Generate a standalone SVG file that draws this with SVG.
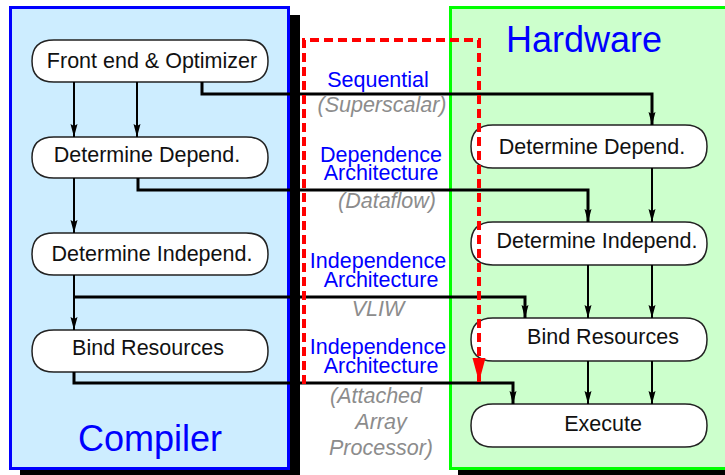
<svg xmlns="http://www.w3.org/2000/svg" width="725" height="475" viewBox="0 0 725 475">
<style>
.node{fill:#ffffff;stroke:#222;stroke-width:1.5}
.nt{font-family:"Liberation Sans",Arial,sans-serif;font-size:21.5px;fill:#111;text-anchor:middle}
.blue{font-family:"Liberation Sans",Arial,sans-serif;font-size:21.5px;fill:#0000ff;text-anchor:middle}
.gray{font-family:"Liberation Sans",Arial,sans-serif;font-size:21.5px;font-style:italic;fill:#8c8c8c;text-anchor:middle}
.big{font-family:"Liberation Sans",Arial,sans-serif;font-size:36px;fill:#0000ff;text-anchor:middle}
.arr{fill:none;stroke:#000;stroke-width:2;marker-end:url(#ah)}
.link{fill:none;stroke:#000;stroke-width:3;stroke-linejoin:miter;marker-end:url(#ah)}
.line{fill:none;stroke:#000;stroke-width:3}
</style>
<defs>
<marker id="ah" markerUnits="userSpaceOnUse" markerWidth="14" markerHeight="10" refX="13" refY="4" orient="auto">
<path d="M0,0.5 L13,4 L0,7.5 L2,4 Z" fill="#000"/>
</marker>
<marker id="rh" markerUnits="userSpaceOnUse" markerWidth="26" markerHeight="14" refX="24" refY="7" orient="auto">
<path d="M0,0.5 L24,7 L0,13.5 Z" fill="#ff0000"/>
</marker>
</defs>

<g id="compiler-box">
<rect x="20" y="15" width="280" height="460" fill="#000"/>
<rect x="10.5" y="7.5" width="278" height="461" fill="#cdedff" stroke="#0000ff" stroke-width="3"/>
<text class="big" x="150" y="451">Compiler</text>
</g>
<g id="hardware-box">
<rect x="458" y="15" width="300" height="460" fill="#000"/>
<rect x="450.5" y="7.5" width="300" height="461" fill="#ccffcc" stroke="#00ff00" stroke-width="3"/>
<text class="big" x="584" y="52">Hardware</text>
</g>

<g id="labels">
<text class="blue" x="378" y="87">Sequential</text>
<text class="gray" x="382" y="112">(Superscalar)</text>
<text class="blue" x="381" y="162">Dependence</text>
<text class="blue" x="381" y="180">Architecture</text>
<text class="gray" x="387" y="208">(Dataflow)</text>
<text class="blue" x="378" y="268">Independence</text>
<text class="blue" x="381" y="287">Architecture</text>
<text class="gray" x="378" y="316">VLIW</text>
<text class="blue" x="378" y="354">Independence</text>
<text class="blue" x="381" y="373">Architecture</text>
<text class="gray" x="376" y="403">(Attached</text>
<text class="gray" x="381" y="429">Array</text>
<text class="gray" x="381" y="455">Processor)</text>
</g>

<g id="c-front">
<path class="node" d="M54,40 H246 Q268,40 268,61 Q268,82 246,82 H54 Q32,82 32,61 Q32,40 54,40 Z"/>
<text class="nt" x="152" y="68">Front end &amp; Optimizer</text>
</g>
<g id="c-dep">
<path class="node" d="M54,137 H246 Q268,137 268,157.5 Q268,178 246,178 H54 Q32,178 32,157.5 Q32,137 54,137 Z"/>
<text class="nt" x="147" y="162">Determine Depend.</text>
</g>
<g id="c-indep">
<path class="node" d="M54,233 H246 Q268,233 268,254 Q268,275 246,275 H54 Q32,275 32,254 Q32,233 54,233 Z"/>
<text class="nt" x="152" y="261">Determine Independ.</text>
</g>
<g id="c-bind">
<path class="node" d="M54,330 H246 Q268,330 268,351 Q268,372 246,372 H54 Q32,372 32,351 Q32,330 54,330 Z"/>
<text class="nt" x="148" y="355">Bind Resources</text>
</g>

<g id="h-dep">
<path class="node" d="M493,125 H685 Q707,125 707,146.5 Q707,168 685,168 H493 Q471,168 471,146.5 Q471,125 493,125 Z"/>
<text class="nt" x="592" y="154">Determine Depend.</text>
</g>
<g id="h-indep">
<path class="node" d="M493,222 H685 Q707,222 707,243.5 Q707,265 685,265 H493 Q471,265 471,243.5 Q471,222 493,222 Z"/>
<text class="nt" x="597" y="248">Determine Independ.</text>
</g>
<g id="h-bind">
<path class="node" d="M493,318 H685 Q707,318 707,339.5 Q707,361 685,361 H493 Q471,361 471,339.5 Q471,318 493,318 Z"/>
<text class="nt" x="603" y="344">Bind Resources</text>
</g>
<g id="h-exec">
<path class="node" d="M493,404 H685 Q707,404 707,425.5 Q707,447 685,447 H493 Q471,447 471,425.5 Q471,404 493,404 Z"/>
<text class="nt" x="603" y="431">Execute</text>
</g>

<g id="connectors">
<path class="arr" d="M74,82 V137"/>
<path class="arr" d="M137,82 V137"/>
<path class="arr" d="M74,178 V233"/>
<path class="arr" d="M74,275 V330"/>
<path class="arr" d="M652,168 V222"/>
<path class="arr" d="M588,265 V318"/>
<path class="arr" d="M652,265 V318"/>
<path class="arr" d="M588,361 V404"/>
<path class="arr" d="M652,361 V404"/>
<path class="link" d="M202,82 V94 H652 V125"/>
<path class="link" d="M138,178 V190 H588 V222"/>
<path class="link" d="M74,297 H525 V318"/>
<path class="link" d="M74,372 V383 H513 V404"/>
<path fill="none" stroke="#ff0000" stroke-width="4" stroke-dasharray="9 5" d="M304,384 V40 H479 V382" marker-end="url(#rh)"/>
</g>
</svg>
